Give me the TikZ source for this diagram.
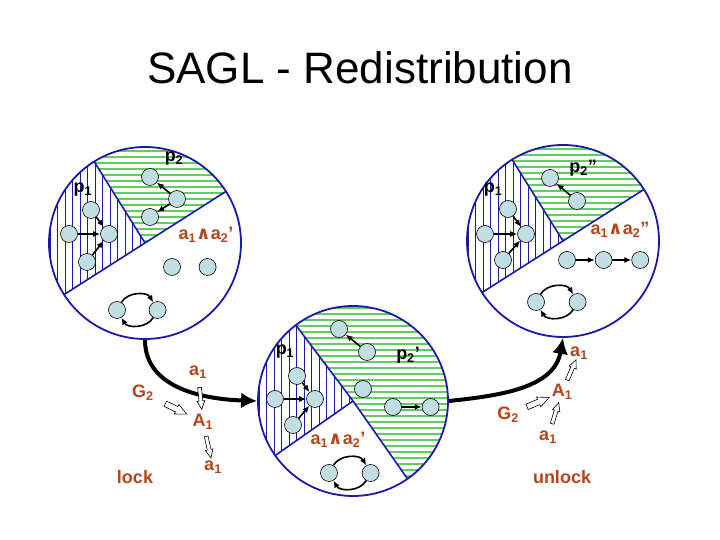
\documentclass[tikz,border=0pt]{standalone}
\usepackage{fontspec}
\setsansfont{Liberation Sans}
\newfontfamily\wedgefont{DejaVu Sans}
\usetikzlibrary{arrows.meta,positioning,calc,shapes.arrows}
\definecolor{ringblue}{RGB}{25,25,170}
\definecolor{hatchgreen}{RGB}{95,205,95}
\definecolor{statefill}{RGB}{193,222,226}
\definecolor{labelred}{RGB}{181,69,27}
\newcommand{\conj}{{\wedgefont\bfseries ∧}}
\tikzset{
  ring/.style={circle, draw=ringblue, line width=1.8pt, minimum size=192pt, inner sep=0pt},
  cutline/.style={draw=ringblue, line width=1.6pt},
  vhatch/.style={draw=ringblue, line width=0.7pt},
  hhatch/.style={draw=hatchgreen, line width=1.5pt},
  state/.style={circle, draw=black, fill=statefill, minimum size=17pt, inner sep=0pt, line width=0.6pt},
  trans/.style={-{Latex[length=7pt,width=6pt]}, line width=1.6pt},
  bigarrow/.style={-{Latex[length=16pt,width=16pt]}, line width=4pt},
  plabel/.style={font={\sffamily\bfseries\fontsize{18}{20}\selectfont}, inner sep=1pt},
  alabel/.style={font={\sffamily\bfseries\fontsize{18}{20}\selectfont}, text=labelred, inner sep=1pt},
  hollow/.style={single arrow, draw=black, fill=white, line width=0.6pt, inner xsep=0pt, inner ysep=1.6pt, minimum width=0pt, minimum height=22pt, single arrow head extend=2pt, single arrow tip angle=50, sloped},
  hollowwide/.style={hollow, inner ysep=2.6pt, single arrow head extend=2.4pt, minimum height=24pt}
}
\begin{document}
\begin{tikzpicture}[x=1pt, y=1pt]
\useasboundingbox (0,0) rectangle (720,540);
\node[font={\sffamily\fontsize{44}{50}\selectfont}] (title) at (360,472) {SAGL - Redistribution};

\coordinate (c1) at (145,297);
\coordinate (c2) at (353,139);
\coordinate (c3) at (563,299);

% hatched regions
\begin{scope}
  \clip (c1) -- ++(122:96) arc[start angle=122, end angle=212.5, radius=96] -- cycle;
  \foreach \x in {50,57.5,...,150} \draw[vhatch] (\x,195) -- (\x,400);
\end{scope}
\begin{scope}
  \clip (c1) -- ++(32.5:96) arc[start angle=32.5, end angle=122, radius=96] -- cycle;
  \foreach \y in {299,305,...,400} \draw[hhatch] (40,\y) -- (250,\y);
\end{scope}
\begin{scope}
  \clip (c2) -- ++(127:95) arc[start angle=127, end angle=215, radius=95] -- cycle;
  \foreach \x in {259,266.5,...,360} \draw[vhatch] (\x,40) -- (\x,240);
\end{scope}
\begin{scope}
  \clip (c2) -- ++(305:95) arc[start angle=305, end angle=487, radius=95] -- cycle;
  \foreach \y in {40,46,...,240} \draw[hhatch] (250,\y) -- (460,\y);
\end{scope}
\begin{scope}
  \clip (c3) -- ++(122:96) arc[start angle=122, end angle=212.5, radius=96] -- cycle;
  \foreach \x in {468,475.5,...,570} \draw[vhatch] (\x,195) -- (\x,400);
\end{scope}
\begin{scope}
  \clip (c3) -- ++(32.5:96) arc[start angle=32.5, end angle=122, radius=96] -- cycle;
  \foreach \y in {301,307,...,400} \draw[hhatch] (460,\y) -- (670,\y);
\end{scope}

\draw[cutline] (c1) -- ++(122:96);
\draw[cutline] ($(c1)+(32.5:96)$) -- ($(c1)+(212.5:96)$);
\draw[cutline] (c2) -- ++(127:95);
\draw[cutline] (c2) -- ++(215:95);
\draw[cutline] (c2) -- ++(305:95);
\draw[cutline] (c3) -- ++(122:96);
\draw[cutline] ($(c3)+(32.5:96)$) -- ($(c3)+(212.5:96)$);

\node[ring] (pre) at (c1) {};
\node[ring, minimum size=190pt] (mid) at (c2) {};
\node[ring] (post) at (c3) {};

% left ring
\node[state] (pre-p2a) at (150,363) {};
\node[state] (pre-p2b) at (177,341) {};
\node[state] (pre-p2c) at (150,323) {};
\node[state] (pre-p1c) at (109,306) {};
\node[state] (pre-p1a) at (91,330) {};
\node[state] (pre-p1b) at (69,306) {};
\node[state] (pre-p1d) at (87,278) {};
\node[state] (pre-q1) at (172,273) {};
\node[state, right=18pt of pre-q1] (pre-q2) {};
\node[state] (pre-l1) at (117,230) {};
\node[state, right=23pt of pre-l1] (pre-l2) {};
\draw[trans] (pre-p2b) -- (pre-p2a);
\draw[trans] (pre-p2b) -- (pre-p2c);
\draw[trans] (pre-p1a) -- (pre-p1c);
\draw[trans] (pre-p1b) -- (pre-p1c);
\draw[trans] (pre-p1d) -- (pre-p1c);
\draw[trans] (pre-l1) to[bend left=60] (pre-l2);
\draw[trans] (pre-l2) to[bend left=60] (pre-l1);
\node[plabel] (pre-p2) at (174,381) {p\textsubscript{2}};
\node[plabel] (pre-p1) at (83,350) {p\textsubscript{1}};
\node[alabel] (pre-a) at (206,305) {a\textsubscript{1}\conj a\textsubscript{2}'};

% middle ring
\node[state] (mid-p2a) at (339,211) {};
\node[state] (mid-p2b) at (367,188) {};
\node[state] (mid-p2c) at (363,151) {};
\node[state] (mid-p2d) at (393,133) {};
\node[state, right=20pt of mid-p2d] (mid-p2e) {};
\node[state] (mid-p1c) at (315,141) {};
\node[state] (mid-p1a) at (297,164) {};
\node[state] (mid-p1b) at (275,141) {};
\node[state] (mid-p1d) at (293,115) {};
\node[state] (mid-l1) at (329,67) {};
\node[state, right=24pt of mid-l1] (mid-l2) {};
\draw[trans] (mid-p2b) -- (mid-p2a);
\draw[trans] (mid-p2d) -- (mid-p2e);
\draw[trans] (mid-p1a) -- (mid-p1c);
\draw[trans] (mid-p1b) -- (mid-p1c);
\draw[trans] (mid-p1d) -- (mid-p1c);
\draw[trans] (mid-l1) to[bend left=60] (mid-l2);
\draw[trans] (mid-l2) to[bend left=60] (mid-l1);
\node[plabel] (mid-p1) at (285,188) {p\textsubscript{1}};
\node[plabel] (mid-p2) at (408,185) {p\textsubscript{2}'};
\node[alabel] (mid-a) at (338,100) {a\textsubscript{1}\conj a\textsubscript{2}'};

% right ring
\node[state] (post-p2a) at (550,362) {};
\node[state] (post-p2b) at (577,339) {};
\node[state] (post-p1c) at (526,306) {};
\node[state] (post-p1a) at (508,331) {};
\node[state] (post-p1b) at (485,306) {};
\node[state] (post-p1d) at (503,280) {};
\node[state] (post-q1) at (567,280) {};
\node[state, right=19pt of post-q1] (post-q2) {};
\node[state, right=19pt of post-q2] (post-q3) {};
\node[state] (post-l1) at (536,238) {};
\node[state, right=24pt of post-l1] (post-l2) {};
\draw[trans] (post-p2b) -- (post-p2a);
\draw[trans] (post-p1a) -- (post-p1c);
\draw[trans] (post-p1b) -- (post-p1c);
\draw[trans] (post-p1d) -- (post-p1c);
\draw[trans] (post-q1) -- (post-q2);
\draw[trans] (post-q2) -- (post-q3);
\draw[trans] (post-l1) to[bend left=60] (post-l2);
\draw[trans] (post-l2) to[bend left=60] (post-l1);
\node[plabel] (post-p2) at (583,372) {p\textsubscript{2}''};
\node[plabel] (post-p1) at (493,350) {p\textsubscript{1}};
\node[alabel] (post-a) at (620,310) {a\textsubscript{1}\conj a\textsubscript{2}''};

\draw[bigarrow] (pre.south) to[out=-90,in=178] (mid.west);
\draw[bigarrow] (mid.east) to[out=6,in=-100] (post.south);

% lock
\node[alabel] (lock-a) at (198,168) {a\textsubscript{1}};
\node[alabel] (lock-g) at (143,147) {G\textsubscript{2}};
\node[alabel] (lock-A) at (203,118) {A\textsubscript{1}};
\node[alabel] (lock-b) at (213,73) {a\textsubscript{1}};
\node[alabel] (lock) at (135,63) {lock};
\path (lock-a) -- node[hollow] {} (lock-A);
\path (lock-g) -- node[hollowwide] {} (lock-A);
\path (lock-A) -- node[hollow] {} (lock-b);

% unlock
\node[alabel] (unl-a) at (579,187) {a\textsubscript{1}};
\node[alabel] (unl-A) at (562,148) {A\textsubscript{1}};
\node[alabel] (unl-g) at (508,125) {G\textsubscript{2}};
\node[alabel] (unl-b) at (548,103) {a\textsubscript{1}};
\node[alabel] (unlock) at (562,63) {unlock};
\path (unl-b) -- node[hollow] {} (unl-A);
\path (unl-g) -- node[hollowwide] {} (unl-A);
\path (unl-A) -- node[hollow] {} (unl-a);
\end{tikzpicture}
\end{document}
